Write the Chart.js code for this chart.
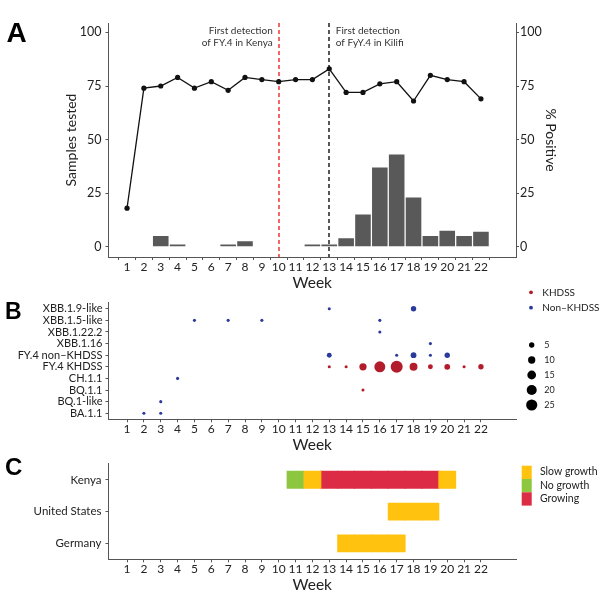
<!DOCTYPE html>
<html><head><meta charset="utf-8">
<script src="https://cdn.jsdelivr.net/npm/chart.js@4"></script>
<style>
html,body{margin:0;padding:0;background:#fff;}
#wrap{position:relative;width:600px;height:595px;overflow:hidden;background:#fff;}
canvas{position:absolute;left:0;}
</style></head><body>
<div id="wrap">
<canvas id="cA" width="600" height="291" style="top:0px"></canvas>
<canvas id="cB" width="600" height="173" style="top:280px"></canvas>
<canvas id="cC" width="600" height="140" style="top:453px"></canvas>
</div>
<script>
// ---------- DATA ----------
const weeks = [1,2,3,4,5,6,7,8,9,10,11,12,13,14,15,16,17,18,19,20,21,22];
const pctPositive = [18,74,75,79,74,77,73,79,78,77,78,78,83,72,72,76,77,68,80,78,77,69];
const samplesTested = [0,0,5,1,0,0,1,2.5,0,0,0,1,1,4,15,37,43,23,5,7.5,5,7];
const yTicksA = [0,25,50,75,100];
const kenyaDetectionWeek = 10;
const kilifiDetectionWeek = 13;
const kenyaNote = ['First detection','of FY.4 in Kenya'];
const kilifiNote = ['First detection','of FyY.4 in Kilifi'];

const lineages = ['BA.1.1','BQ.1-like','BQ.1.1','CH.1.1','FY.4 KHDSS','FY.4 non\u2013KHDSS','XBB.1.16','XBB.1.22.2','XBB.1.5-like','XBB.1.9-like'];
const khdssLineage = ['FY.4 KHDSS','FY.4 KHDSS','FY.4 KHDSS','FY.4 KHDSS','FY.4 KHDSS','FY.4 KHDSS','FY.4 KHDSS','FY.4 KHDSS','FY.4 KHDSS','FY.4 KHDSS','BQ.1.1'];
const khdssWeek = [13,14,15,16,17,18,19,20,21,22,15];
const khdssCount = [1,1,10,24,29,12,4,6,1,5,1];
const nonLineage = ['XBB.1.9-like','XBB.1.9-like','XBB.1.5-like','XBB.1.5-like','XBB.1.5-like','XBB.1.5-like','XBB.1.22.2','XBB.1.16',
  'FY.4 non\u2013KHDSS','FY.4 non\u2013KHDSS','FY.4 non\u2013KHDSS','FY.4 non\u2013KHDSS','FY.4 non\u2013KHDSS','CH.1.1','BQ.1-like','BA.1.1','BA.1.1'];
const nonWeek = [13,18,5,7,9,16,16,19,13,17,18,19,20,4,3,2,3];
const nonCount = [1,5,1,1,1,1,1,1,4,1,6,1,5,1,1,1,1];
const sizeBreaks = [5,10,15,20,25];
const siteNames = ['KHDSS','Non\u2013KHDSS'];

const countries = ['Kenya','United States','Germany'];
const kenyaWeeks = [11,12,13,14,15,16,17,18,19,20];
const kenyaStatus = ['No growth','Slow growth','Growing','Growing','Growing','Growing','Growing','Growing','Growing','Slow growth'];
const usWeeks = [17,18,19];
const usStatus = ['Slow growth','Slow growth','Slow growth'];
const germanyWeeks = [14,15,16,17];
const germanyStatus = ['Slow growth','Slow growth','Slow growth','Slow growth'];
const statuses = ['Slow growth','No growth','Growing'];

// ---------- STYLE ----------
const F = 'Lato';
const AX = '#555';
const TX = '#222';
const RED = '#b31d2b', BLUE = '#2b3b9c';
const statusColor = {'Slow growth':'#FFC20F','No growth':'#8DC63F','Growing':'#DC2B45'};
const radiusFor = n => Math.sqrt(1.2 + 1.2*n);

const gridCfg = {display:true, drawOnChartArea:false, drawTicks:true, tickLength:3, color:AX, lineWidth:1};
const borderCfg = {display:true, color:AX, width:1};

function xScaleCfg(h){
  return {type:'linear', min:-0.1, max:24.08, offset:false,
    afterBuildTicks: s => { s.ticks = weeks.map(v => ({value:v})); },
    afterFit: s => { s.height = h; },
    grid: gridCfg, border: borderCfg,
    ticks:{autoSkip:false, maxRotation:0, minRotation:0, font:{family:F,size:12,lineHeight:1}, color:TX, padding:1, callback: v => String(v)},
    title:{display:true, text:'Week', font:{family:F,size:15.5,lineHeight:1}, color:TX, padding:{top:0,bottom:0}}
  };
}
const common = {responsive:false, animation:false, devicePixelRatio:1,
  plugins:{legend:{display:false}, tooltip:{enabled:false}}};

function panelLabel(ctx, txt, x, y, size){
  ctx.save();
  ctx.font = 'bold ' + size + 'px "Liberation Sans", Arial, sans-serif';
  ctx.fillStyle = '#000'; ctx.textBaseline = 'alphabetic'; ctx.textAlign = 'left';
  ctx.fillText(txt, x, y);
  ctx.restore();
}

// ---------- PANEL A ----------
const annotA = {
  id:'annotA',
  beforeDatasetsDraw(chart){
    const {ctx, chartArea:ca, scales:{x}} = chart;
    const lines = [[kenyaDetectionWeek,'#f0252a'],[kilifiDetectionWeek,'#111']];
    ctx.save();
    ctx.lineWidth = 1.4; ctx.setLineDash([4,3]);
    lines.forEach(([w,c]) => {
      const px = Math.round(x.getPixelForValue(w));
      ctx.strokeStyle = c; ctx.beginPath(); ctx.moveTo(px, ca.top); ctx.lineTo(px, ca.bottom); ctx.stroke();
    });
    ctx.restore();
  },
  afterDraw(chart){
    const {ctx, chartArea:ca, scales:{x}} = chart;
    ctx.save();
    ctx.font = '10px ' + F; ctx.fillStyle = '#333'; ctx.textBaseline = 'middle';
    const k = x.getPixelForValue(kenyaDetectionWeek);
    ctx.textAlign = 'right';
    kenyaNote.forEach((t,i) => ctx.fillText(t, k - 6, ca.top + 8 + i*12));
    const f = x.getPixelForValue(kilifiDetectionWeek);
    ctx.textAlign = 'left';
    kilifiNote.forEach((t,i) => ctx.fillText(t, f + 6.5, ca.top + 8 + i*12));
    ctx.restore();
    panelLabel(ctx, 'A', 6.5, 42, 28);
  }
};

new Chart(document.getElementById('cA'), {
  type:'bar',
  data:{datasets:[
    {type:'line', data: weeks.map((w,i)=>({x:w, y:pctPositive[i]})), yAxisID:'y2',
     borderColor:'#111', borderWidth:1.3, pointRadius:2.6, pointBackgroundColor:'#111', pointBorderWidth:0, tension:0},
    {type:'bar', data: weeks.map((w,i)=>({x:w, y:samplesTested[i]})), yAxisID:'y',
     backgroundColor:'#595959', borderWidth:0, categoryPercentage:1, barPercentage:0.925}
  ]},
  options:{...common,
    layout:{padding:{top:23, left:0, right:0, bottom:0}},
    scales:{
      x: xScaleCfg(34),
      y: {type:'linear', position:'left', min:-4.8, max:104.4,
        afterBuildTicks: s => { s.ticks = yTicksA.map(v => ({value:v})); },
        afterFit: s => { s.width = 108.5; },
        grid:gridCfg, border:borderCfg,
        ticks:{autoSkip:false, font:{family:F,size:12.5}, color:TX, padding:4},
        title:{display:true, text:'Samples tested', font:{family:F,size:14,lineHeight:1}, color:TX, padding:{top:64,bottom:0}}},
      y2: {type:'linear', position:'right', min:-4.8, max:104.4,
        afterBuildTicks: s => { s.ticks = yTicksA.map(v => ({value:v})); },
        afterFit: s => { s.width = 84; },
        grid:gridCfg, border:borderCfg,
        ticks:{autoSkip:false, font:{family:F,size:12.5}, color:TX, padding:1},
        title:{display:true, text:'% Positive', font:{family:F,size:14,lineHeight:1}, color:TX, padding:{top:42,bottom:0}}}
    }
  },
  plugins:[annotA]
});

// ---------- PANEL B ----------
const legendB = {
  id:'legendB',
  afterDraw(chart){
    const ctx = chart.ctx;
    ctx.save();
    ctx.textBaseline = 'middle'; ctx.textAlign = 'left';
    ctx.font = '10px ' + F;
    [[RED, 12.3],[BLUE, 27.7]].forEach(([c,y],i) => {
      ctx.fillStyle = c; ctx.beginPath(); ctx.arc(531, y, 1.9, 0, Math.PI*2); ctx.fill();
      ctx.fillStyle = TX; ctx.fillText(siteNames[i], 542.3, y);
    });
    ctx.font = '9px ' + F;
    sizeBreaks.forEach((n,i) => {
      const y = 65 + i*15;
      ctx.fillStyle = '#000'; ctx.beginPath(); ctx.arc(531.7, y, radiusFor(n), 0, Math.PI*2); ctx.fill();
      ctx.fillStyle = TX; ctx.fillText(String(n), 544.3, y);
    });
    ctx.restore();
    panelLabel(ctx, 'B', 5, 39.3, 23);
  }
};
const lineageY = name => lineages.indexOf(name) + 1;
new Chart(document.getElementById('cB'), {
  type:'scatter',
  data:{datasets:[
    {data: khdssWeek.map((w,i)=>({x:w, y:lineageY(khdssLineage[i]), n:khdssCount[i]})),
     backgroundColor:RED, pointBorderWidth:0, pointRadius: c => radiusFor(c.raw ? c.raw.n : 1)},
    {data: nonWeek.map((w,i)=>({x:w, y:lineageY(nonLineage[i]), n:nonCount[i]})),
     backgroundColor:BLUE, pointBorderWidth:0, pointRadius: c => radiusFor(c.raw ? c.raw.n : 1)}
  ]},
  options:{...common,
    layout:{padding:{top:22.7, left:0, right:84, bottom:0}},
    scales:{
      x: xScaleCfg(33.7),
      y: {type:'linear', min:0.48, max:10.52,
        afterBuildTicks: s => { s.ticks = lineages.map((_,i) => ({value:i+1})); },
        afterFit: s => { s.width = 108.5; },
        grid:gridCfg, border:borderCfg,
        ticks:{autoSkip:false, font:{family:F,size:11}, color:TX, padding:3, callback: v => lineages[v-1]}}
    }
  },
  plugins:[legendB]
});

// ---------- PANEL C ----------
const legendC = {
  id:'legendC',
  afterDraw(chart){
    const ctx = chart.ctx;
    ctx.save();
    ctx.textBaseline = 'middle'; ctx.textAlign = 'left'; ctx.font = '10.5px ' + F;
    statuses.forEach((s,i) => {
      const y0 = 12.7 + i*13.3;
      ctx.fillStyle = statusColor[s]; ctx.fillRect(521.7, y0, 10, 13.3);
      ctx.fillStyle = TX; ctx.fillText(s, 540, y0 + 6.2);
    });
    ctx.restore();
    panelLabel(ctx, 'C', 5, 22, 24);
  }
};
const tiles = [];
[[countries[0], kenyaWeeks, kenyaStatus],[countries[1], usWeeks, usStatus],[countries[2], germanyWeeks, germanyStatus]]
  .forEach(([c, ws, ss]) => ws.forEach((w,i) => tiles.push({country:c, week:w, status:ss[i]})));
new Chart(document.getElementById('cC'), {
  type:'bar',
  data:{labels:countries, datasets: statuses.map(s => ({
    data: tiles.filter(t => t.status === s).map(t => ({x:[t.week-0.5, t.week+0.5], y:t.country})),
    backgroundColor: statusColor[s], borderWidth:0, inflateAmount:0.5,
    grouped:false, categoryPercentage:1, barPercentage:0.53
  }))},
  options:{...common, indexAxis:'y',
    layout:{padding:{top:9.3, left:0, right:84, bottom:0}},
    scales:{
      x: xScaleCfg(33.7),
      y: {type:'category', labels:countries, offset:true,
        afterFit: s => { s.width = 108.5; },
        grid:{...gridCfg, offset:false}, border:borderCfg,
        ticks:{autoSkip:false, font:{family:F,size:11.5}, color:TX, padding:4}}
    }
  },
  plugins:[legendC]
});
</script>
</body></html>
